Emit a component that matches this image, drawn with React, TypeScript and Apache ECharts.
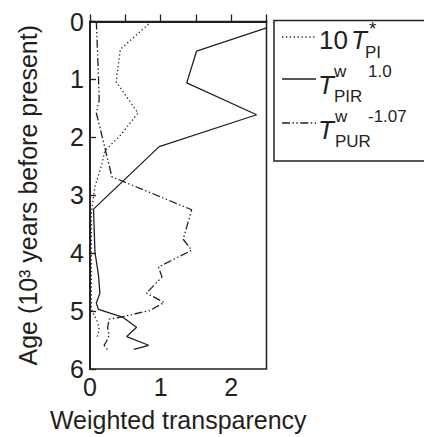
import React, { useEffect, useRef } from "react";
import * as echarts from "echarts";

// 10 T*_PI (dotted)
const piAge = [0.0, 0.48, 1.04, 1.58, 1.98, 2.23, 2.46, 2.85, 3.02, 3.3, 4.97, 5.1, 5.2, 5.32, 5.45];
const piValue = [0.87, 0.43, 0.37, 0.68, 0.42, 0.21, 0.17, 0.07, 0.05, 0.02, 0.02, 0.07, 0.11, 0.13, 0.1];

// T^w_PIR ^1.0 (solid)
const pirAge = [0.11, 0.51, 1.06, 1.61, 2.16, 3.24, 3.98, 4.38, 4.69, 4.86, 4.97, 5.11, 5.28, 5.44, 5.59, 5.66];
const pirValue = [2.5, 1.51, 1.37, 2.36, 0.98, 0.05, 0.07, 0.12, 0.14, 0.09, 0.12, 0.47, 0.66, 0.52, 0.83, 0.62];

// T^w_PUR ^-1.07 (dash-dot)
const purAge = [0.0, 0.96, 1.36, 1.58, 2.68, 3.25, 3.76, 3.95, 4.24, 4.41, 4.69, 4.85, 4.99, 5.1, 5.14, 5.28, 5.42, 5.53, 5.59, 5.67];
const purValue = [0.09, 0.12, 0.13, 0.09, 0.31, 1.44, 1.32, 1.44, 0.97, 1.02, 0.8, 1.05, 0.85, 0.45, 0.27, 0.25, 0.27, 0.23, 0.2, 0.25];

const xTickLabels = ["0", "1", "2"];
const yTickLabels = ["0", "1", "2", "3", "4", "5", "6"];

const FONT = "Liberation Sans, Arial, Helvetica, sans-serif";
const INK = "#231f20";
const DOT: number[] = [1.3, 2.6];
const DASHDOT: number[] = [8, 2.5, 1.4, 2.5, 1.4, 2.5];

function pairs(xs: number[], ys: number[]) {
  return xs.map((x, i) => [x, ys[i]]);
}

export default function App() {
  const ref = useRef<HTMLDivElement>(null);
  useEffect(() => {
    if (!ref.current) return;
    const chart = echarts.init(ref.current, undefined, { renderer: "svg" });
    const txt = (text: string, x: number, y: number, size: number, italic = false) => ({
      type: "text",
      x,
      y,
      style: {
        text,
        fill: INK,
        font: `${italic ? "italic " : ""}${size}px ${FONT}`,
        verticalAlign: "middle",
        align: "left",
      },
    });
    const sample = (y: number, dash: any) => ({
      type: "line",
      shape: { x1: 282, y1: y, x2: 316, y2: y },
      style: { stroke: INK, lineWidth: 1.3, lineDash: dash },
    });
    chart.setOption({
      animation: false,
      grid: {
        left: 90,
        right: 157.5,
        top: 21.5,
        bottom: 62,
        show: true,
        borderColor: INK,
        borderWidth: 1.5,
        backgroundColor: "transparent",
      },
      xAxis: {
        type: "value",
        min: 0,
        max: 2.5,
        interval: 0.5,
        name: "Weighted transparency",
        nameLocation: "middle",
        nameGap: 38,
        nameTextStyle: { fontFamily: FONT, fontSize: 25, color: INK },
        axisLine: { show: true, lineStyle: { color: INK, width: 1.8 } },
        axisTick: { show: true, inside: true, length: 7, lineStyle: { color: INK, width: 1.3 } },
        axisLabel: {
          fontFamily: FONT,
          fontSize: 25,
          color: INK,
          margin: 5,
          formatter: (v: number) => {
            const i = xTickLabels.indexOf(String(v));
            return i >= 0 ? xTickLabels[i] : "";
          },
        },
        splitLine: { show: false },
      },
      yAxis: {
        type: "value",
        inverse: true,
        min: 0,
        max: 6,
        interval: 1,
        name: "Age (10³ years before present)",
        nameLocation: "middle",
        nameGap: 50,
        nameTextStyle: { fontFamily: FONT, fontSize: 25, color: INK },
        axisLine: { show: true, lineStyle: { color: INK, width: 1.8 } },
        axisTick: { show: true, inside: true, length: 6, lineStyle: { color: INK, width: 1.3 } },
        axisLabel: {
          fontFamily: FONT,
          fontSize: 25,
          color: INK,
          margin: 6,
          formatter: (v: number) => yTickLabels[Math.round(v)] ?? "",
        },
        splitLine: { show: false },
      },
      series: [
        {
          name: "10 T*PI",
          type: "line",
          data: pairs(piValue, piAge),
          symbol: "none",
          lineStyle: { color: INK, width: 1.3, type: DOT },
        },
        {
          name: "TwPIR 1.0",
          type: "line",
          data: pairs(pirValue, pirAge),
          symbol: "none",
          lineStyle: { color: INK, width: 1.3, type: "solid" },
        },
        {
          name: "TwPUR -1.07",
          type: "line",
          data: pairs(purValue, purAge),
          symbol: "none",
          lineStyle: { color: INK, width: 1.3, type: DASHDOT },
        },
      ],
      graphic: [
        {
          type: "rect",
          shape: { x: 274, y: 20.5, width: 170, height: 140.5 },
          style: { fill: "transparent", stroke: INK, lineWidth: 1.5 },
        },
        sample(37, DOT),
        sample(79, [] as any),
        sample(123, DASHDOT),
        txt("10", 319, 40, 26),
        txt("T", 351, 40, 26, true),
        txt("*", 369, 28, 19),
        txt("PI", 365, 52, 17),
        txt("T", 318, 85, 26, true),
        txt("w", 334, 71, 17),
        txt("PIR", 334, 96, 17),
        txt("1.0", 368, 71, 17),
        txt("T", 318, 130, 26, true),
        txt("w", 335, 116, 17),
        txt("PUR", 335, 141, 17),
        txt("-1.07", 368, 116, 17),
      ],
    });
    return () => chart.dispose();
  }, []);
  return (
    <div
      ref={ref}
      style={{ position: "fixed", left: 0, top: 0, width: 424, height: 437, background: "#fff" }}
    />
  );
}
